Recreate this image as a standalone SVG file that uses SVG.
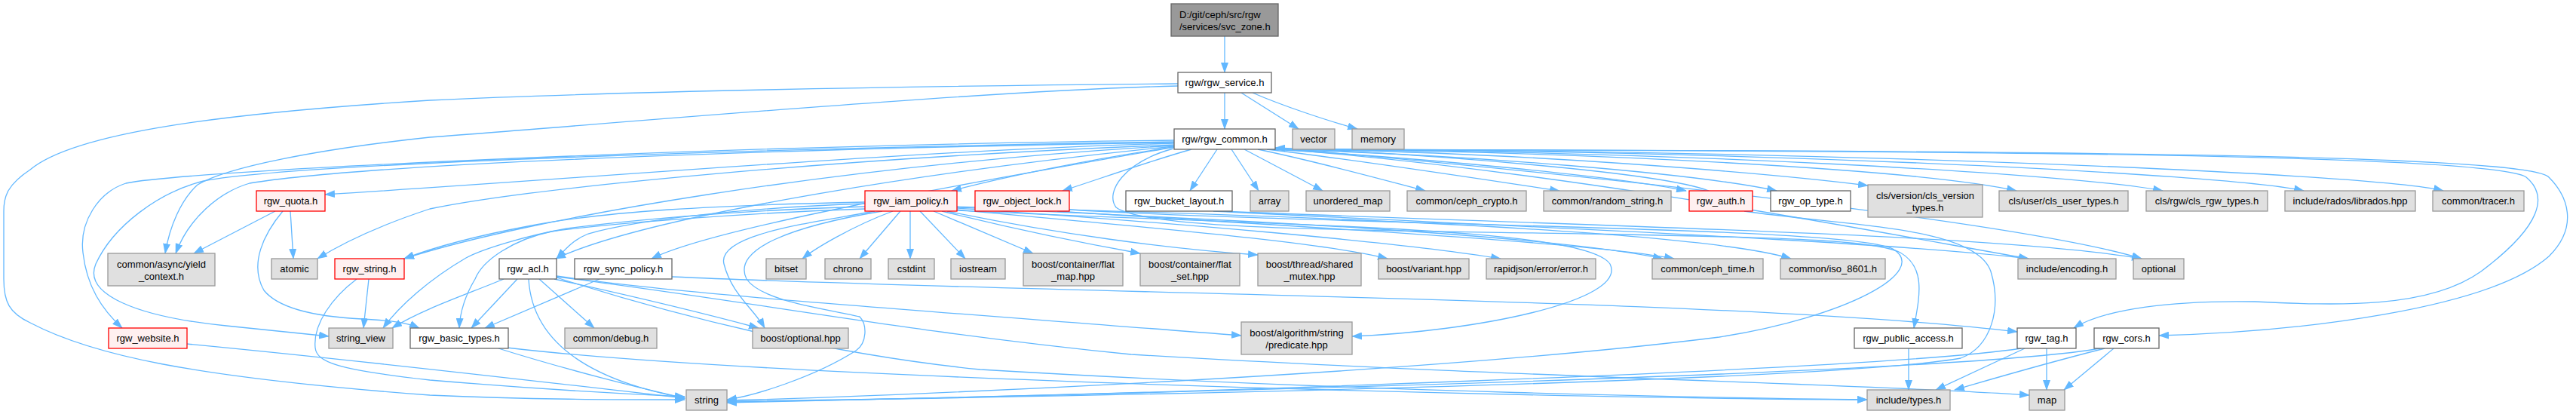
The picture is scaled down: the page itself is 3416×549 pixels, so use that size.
<svg xmlns="http://www.w3.org/2000/svg" width="3416" height="549" viewBox="0 0 3416 549">
<style>
rect{stroke-width:1.3}
.w{fill:#ffffff;stroke:#666666}
.g{fill:#e0e0e0;stroke:#999999}
.r{fill:#fff0f0;stroke:#ff0000}
.root{fill:#999999;stroke:#666666}
text{font-family:"Liberation Sans",Arial,sans-serif;font-size:13px;fill:#000000;text-anchor:middle}
#edges path{fill:none;stroke:#63b8ff;stroke-width:1.3;marker-end:url(#ah)}
</style>
<defs>
<marker id="ah" markerUnits="userSpaceOnUse" markerWidth="14" markerHeight="10" refX="13" refY="5" orient="auto"><path d="M0,0 L14,5 L0,10 z" fill="#63b8ff"/></marker>
</defs>
<rect width="3416" height="549" fill="#ffffff"/>
<g id="edges">
<path d="M1624,48 L1624,96"/>
<path d="M1624,123 L1624,171"/>
<path d="M1646,123 L1722,171"/>
<path d="M1661,123 C1700,140 1760,160 1800,171"/>
<path d="M1562,111 C1200,114 800,122 570,133 C300,150 100,175 40,225 C10,245 5,260 5,280 L5,370 C5,400 12,415 40,428 C120,470 250,500 570,524 C700,530 820,530 908,530"/>
<path d="M1562,114 C1300,120 800,165 570,182 C420,198 300,222 262,245 C240,265 225,300 219,336"/>
<path d="M1557,190 C1200,200 800,235 431,258"/>
<path d="M1557,186 C1000,192 250,225 167,243 C130,255 105,295 110,335 C115,380 135,410 162,435"/>
<path d="M1557,188 C1100,195 400,215 270,240 C210,255 150,300 127,350 C110,390 180,420 300,432 C360,438 400,442 436,446"/>
<path d="M1557,189 C1100,196 500,215 331,243 C290,255 250,290 233,336"/>
<path d="M1557,192 C1100,210 700,250 570,277 C500,300 450,325 421,343"/>
<path d="M1557,193 C1100,220 700,290 536,343"/>
<path d="M1557,194 C1200,230 850,290 737,343"/>
<path d="M1557,195 C1300,240 950,300 864,343"/>
<path d="M1557,195 C1450,210 1330,235 1262,253"/>
<path d="M1580,198 C1520,215 1450,240 1409,253"/>
<path d="M1614,198 L1578,253"/>
<path d="M1633,198 L1669,253"/>
<path d="M1650,198 L1754,253"/>
<path d="M1668,198 C1750,215 1840,240 1890,253"/>
<path d="M1680,198 C1800,212 1980,240 2068,253"/>
<path d="M1686,198 C1900,210 2150,235 2236,253"/>
<path d="M2266,253 C2200,228 1900,205 1691,196"/>
<path d="M1688,198 C1950,205 2250,230 2356,253"/>
<path d="M1690,198 C2000,200 2350,230 2477,246"/>
<path d="M1691,198 C2100,200 2550,225 2674,253"/>
<path d="M1691,198 C2200,199 2750,230 2868,253"/>
<path d="M1691,198 C2300,198 2950,230 3055,253"/>
<path d="M1691,198 C2400,198 3150,230 3240,253"/>
<path d="M1691,198 C2500,200 3300,202 3350,235 C3380,260 3370,300 3290,360 C3220,410 3100,405 2990,400 C2880,398 2790,410 2750,435"/>
<path d="M1691,198 C2600,200 3350,202 3380,235 C3405,260 3420,300 3380,340 C3300,410 3050,440 2863,445"/>
<path d="M1556,197 C1490,215 1465,255 1480,275 C1520,305 1800,305 2100,310 C2400,315 2490,320 2520,335 C2555,355 2545,395 2538,435"/>
<path d="M1691,197 C2100,230 2500,310 2690,343"/>
<path d="M1691,196 C2200,240 2700,300 2840,343"/>
<path d="M365,280 L257,336"/>
<path d="M385,280 L389,343"/>
<path d="M375,280 C350,310 330,350 350,385 C370,410 420,420 480,423 C520,425 540,428 556,435"/>
<path d="M489,370 L482,435"/>
<path d="M473,370 C440,395 415,430 418,461 C420,480 445,490 570,504 C700,515 820,522 908,526"/>
<path d="M248,456 C500,480 750,510 908,528"/>
<path d="M668,370 C620,390 560,410 520,435"/>
<path d="M686,370 L625,435"/>
<path d="M715,370 L788,435"/>
<path d="M735,370 C850,395 950,420 1006,435"/>
<path d="M701,370 C705,440 760,500 908,528"/>
<path d="M738,368 C900,420 1100,470 1300,490 C1800,520 2300,528 2476,530"/>
<path d="M738,367 C1000,400 1200,440 1500,470 C2000,500 2500,510 2691,524"/>
<path d="M738,366 C900,390 1200,410 1646,445"/>
<path d="M795,370 L643,435"/>
<path d="M891,367 C1400,390 2300,395 2675,440"/>
<path d="M661,462 C750,490 850,515 908,528"/>
<path d="M672,461 C1000,500 2000,528 2476,530"/>
<path d="M1184,280 C1130,300 1080,330 1064,343"/>
<path d="M1194,280 L1140,343"/>
<path d="M1207,280 L1207,343"/>
<path d="M1220,280 L1280,343"/>
<path d="M1238,280 L1370,336"/>
<path d="M1249,280 C1350,305 1450,325 1512,336"/>
<path d="M1256,280 C1400,310 1550,330 1668,338"/>
<path d="M1269,278 C1500,300 1750,320 1840,343"/>
<path d="M1269,276 C1550,295 1850,320 1990,343"/>
<path d="M1269,275 C1600,290 2050,310 2205,343"/>
<path d="M1269,274 C1700,285 2250,305 2375,343"/>
<path d="M1147,268 C950,272 800,280 700,300 C620,315 570,330 536,343"/>
<path d="M1147,270 C1000,275 850,290 780,310 C760,318 750,330 738,343"/>
<path d="M1147,274 C1000,278 850,290 752,303 C700,312 640,330 618,342 C570,370 530,405 508,435"/>
<path d="M1147,277 C1000,282 820,295 731,307 C680,318 640,345 630,370 C615,395 610,415 609,435"/>
<path d="M1160,280 C1080,295 950,310 960,350 C970,390 1000,410 1014,435"/>
<path d="M1170,280 C1050,300 970,330 990,370 C1010,400 1100,410 1140,420 C1150,430 1150,455 1135,465 C1080,500 1000,525 964,530"/>
<path d="M1269,279 C1700,300 2100,300 2135,350 C2160,400 1950,440 1793,446"/>
<path d="M1402,280 C1700,300 2100,320 2220,343"/>
<path d="M1418,278 C1800,300 2450,300 2510,330 C2560,360 2450,420 2280,447 C1900,495 1200,525 964,531"/>
<path d="M1609,280 C2000,300 2500,320 2690,343"/>
<path d="M1620,280 C2100,300 2650,310 2840,343"/>
<path d="M2313,280 C2450,300 2620,300 2640,360 C2655,410 2640,460 2600,475 C2400,510 1200,530 964,532"/>
<path d="M2531,462 L2531,517"/>
<path d="M2685,462 L2567,517"/>
<path d="M2714,462 L2714,517"/>
<path d="M2680,462 C2500,490 1500,525 964,533"/>
<path d="M2791,462 C2720,480 2650,500 2592,517"/>
<path d="M2803,462 L2737,517"/>
<path d="M2785,462 C2600,495 1600,520 964,534"/>
</g>
<g id="n_root"><rect class="root" x="1553" y="5" width="142" height="43"/><text x="1564" y="23.5" style="text-anchor:start">D:/git/ceph/src/rgw</text><text x="1564" y="39.5" style="text-anchor:start">/services/svc_zone.h</text></g>
<g id="n_service"><rect class="w" x="1562" y="96" width="124" height="27"/><text x="1624" y="114">rgw/rgw_service.h</text></g>
<g id="n_common"><rect class="w" x="1557" y="171" width="134" height="27"/><text x="1624" y="189">rgw/rgw_common.h</text></g>
<g id="n_vector"><rect class="g" x="1714" y="171" width="56" height="27"/><text x="1742" y="189">vector</text></g>
<g id="n_memory"><rect class="g" x="1793" y="171" width="69" height="27"/><text x="1827.5" y="189">memory</text></g>
<g id="n_quota"><rect class="r" x="340" y="253" width="91" height="27"/><text x="385.5" y="271">rgw_quota.h</text></g>
<g id="n_iam"><rect class="r" x="1147" y="253" width="122" height="27"/><text x="1208" y="271">rgw_iam_policy.h</text></g>
<g id="n_objlock"><rect class="r" x="1293" y="253" width="125" height="27"/><text x="1355.5" y="271">rgw_object_lock.h</text></g>
<g id="n_bucket"><rect class="w" x="1493" y="253" width="141" height="27"/><text x="1563.5" y="271">rgw_bucket_layout.h</text></g>
<g id="n_array"><rect class="g" x="1658" y="253" width="51" height="27"/><text x="1683.5" y="271">array</text></g>
<g id="n_umap"><rect class="g" x="1732" y="253" width="111" height="27"/><text x="1787.5" y="271">unordered_map</text></g>
<g id="n_crypto"><rect class="g" x="1866" y="253" width="158" height="27"/><text x="1945" y="271">common/ceph_crypto.h</text></g>
<g id="n_random"><rect class="g" x="2047" y="253" width="169" height="27"/><text x="2131.5" y="271">common/random_string.h</text></g>
<g id="n_auth"><rect class="r" x="2240" y="253" width="84" height="27"/><text x="2282" y="271">rgw_auth.h</text></g>
<g id="n_optype"><rect class="w" x="2348" y="253" width="106" height="27"/><text x="2401" y="271">rgw_op_type.h</text></g>
<g id="n_clsver"><rect class="g" x="2477" y="245" width="152" height="43"/><text x="2553" y="263.5">cls/version/cls_version</text><text x="2553" y="279.5">_types.h</text></g>
<g id="n_clsuser"><rect class="g" x="2651" y="253" width="171" height="27"/><text x="2736.5" y="271">cls/user/cls_user_types.h</text></g>
<g id="n_clsrgw"><rect class="g" x="2846" y="253" width="161" height="27"/><text x="2926.5" y="271">cls/rgw/cls_rgw_types.h</text></g>
<g id="n_librados"><rect class="g" x="3030" y="253" width="173" height="27"/><text x="3116.5" y="271">include/rados/librados.hpp</text></g>
<g id="n_tracer"><rect class="g" x="3226" y="253" width="121" height="27"/><text x="3286.5" y="271">common/tracer.h</text></g>
<g id="n_yield"><rect class="g" x="143" y="336" width="142" height="43"/><text x="214" y="354.5">common/async/yield</text><text x="214" y="370.5">_context.h</text></g>
<g id="n_atomic"><rect class="g" x="360" y="343" width="61" height="27"/><text x="390.5" y="361">atomic</text></g>
<g id="n_rgwstring"><rect class="r" x="444" y="343" width="92" height="27"/><text x="490" y="361">rgw_string.h</text></g>
<g id="n_acl"><rect class="w" x="662" y="343" width="76" height="27"/><text x="700" y="361">rgw_acl.h</text></g>
<g id="n_sync"><rect class="w" x="762" y="343" width="129" height="27"/><text x="826.5" y="361">rgw_sync_policy.h</text></g>
<g id="n_bitset"><rect class="g" x="1016" y="343" width="53" height="27"/><text x="1042.5" y="361">bitset</text></g>
<g id="n_chrono"><rect class="g" x="1094" y="343" width="61" height="27"/><text x="1124.5" y="361">chrono</text></g>
<g id="n_cstdint"><rect class="g" x="1178" y="343" width="61" height="27"/><text x="1208.5" y="361">cstdint</text></g>
<g id="n_iostream"><rect class="g" x="1261" y="343" width="72" height="27"/><text x="1297" y="361">iostream</text></g>
<g id="n_flatmap"><rect class="g" x="1357" y="336" width="132" height="43"/><text x="1423" y="354.5">boost/container/flat</text><text x="1423" y="370.5">_map.hpp</text></g>
<g id="n_flatset"><rect class="g" x="1512" y="336" width="132" height="43"/><text x="1578" y="354.5">boost/container/flat</text><text x="1578" y="370.5">_set.hpp</text></g>
<g id="n_shmutex"><rect class="g" x="1668" y="336" width="137" height="43"/><text x="1736.5" y="354.5">boost/thread/shared</text><text x="1736.5" y="370.5">_mutex.hpp</text></g>
<g id="n_variant"><rect class="g" x="1828" y="343" width="120" height="27"/><text x="1888" y="361">boost/variant.hpp</text></g>
<g id="n_rapidjson"><rect class="g" x="1971" y="343" width="145" height="27"/><text x="2043.5" y="361">rapidjson/error/error.h</text></g>
<g id="n_cephtime"><rect class="g" x="2191" y="343" width="147" height="27"/><text x="2264.5" y="361">common/ceph_time.h</text></g>
<g id="n_iso"><rect class="g" x="2361" y="343" width="139" height="27"/><text x="2430.5" y="361">common/iso_8601.h</text></g>
<g id="n_encoding"><rect class="g" x="2676" y="343" width="130" height="27"/><text x="2741" y="361">include/encoding.h</text></g>
<g id="n_optional"><rect class="g" x="2829" y="343" width="67" height="27"/><text x="2862.5" y="361">optional</text></g>
<g id="n_website"><rect class="r" x="144" y="435" width="104" height="27"/><text x="196" y="453">rgw_website.h</text></g>
<g id="n_strview"><rect class="g" x="436" y="435" width="85" height="27"/><text x="478.5" y="453">string_view</text></g>
<g id="n_basic"><rect class="w" x="544" y="435" width="130" height="27"/><text x="609" y="453">rgw_basic_types.h</text></g>
<g id="n_debug"><rect class="g" x="749" y="435" width="122" height="27"/><text x="810" y="453">common/debug.h</text></g>
<g id="n_boostopt"><rect class="g" x="998" y="435" width="127" height="27"/><text x="1061.5" y="453">boost/optional.hpp</text></g>
<g id="n_predicate"><rect class="g" x="1646" y="427" width="147" height="43"/><text x="1719.5" y="445.5">boost/algorithm/string</text><text x="1719.5" y="461.5">/predicate.hpp</text></g>
<g id="n_public"><rect class="w" x="2459" y="435" width="143" height="27"/><text x="2530.5" y="453">rgw_public_access.h</text></g>
<g id="n_tag"><rect class="w" x="2675" y="435" width="78" height="27"/><text x="2714" y="453">rgw_tag.h</text></g>
<g id="n_cors"><rect class="w" x="2777" y="435" width="86" height="27"/><text x="2820" y="453">rgw_cors.h</text></g>
<g id="n_string"><rect class="g" x="910" y="517" width="54" height="27"/><text x="937" y="535">string</text></g>
<g id="n_types"><rect class="g" x="2476" y="517" width="110" height="27"/><text x="2531" y="535">include/types.h</text></g>
<g id="n_map"><rect class="g" x="2691" y="517" width="47" height="27"/><text x="2714.5" y="535">map</text></g>
</svg>
